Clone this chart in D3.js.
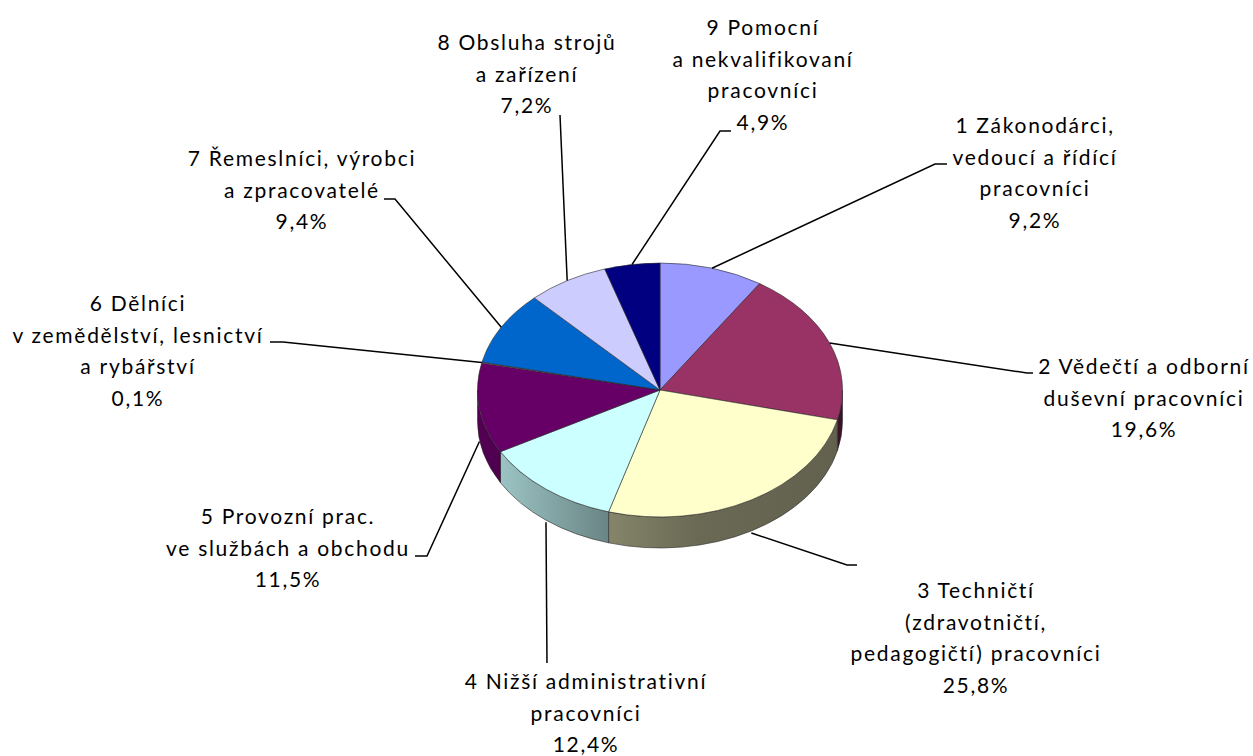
<!DOCTYPE html>
<html>
<head>
<meta charset="utf-8">
<script src="https://cdn.jsdelivr.net/npm/d3@7"></script>
<style>
  body { margin: 0; background: #fff; }
  text { font-family: Lato, "Noto Sans", sans-serif; font-size: 21px; letter-spacing: 1.7px; fill: #000; }
</style>
</head>
<body>
<div id="chart"></div>
<script>
// data
const categories = [
    ["1 Zákonodárci,", "vedoucí a řídící", "pracovníci"],
    ["2 Vědečtí a odborní", "duševní pracovníci"],
    ["3 Techničtí", "(zdravotničtí,", "pedagogičtí) pracovníci"],
    ["4 Nižší administrativní", "pracovníci"],
    ["5 Provozní prac.", "ve službách a obchodu"],
    ["6 Dělníci", "v zemědělství, lesnictví", "a rybářství"],
    ["7 Řemeslníci, výrobci", "a zpracovatelé"],
    ["8 Obsluha strojů", "a zařízení"],
    ["9 Pomocní", "a nekvalifikovaní", "pracovníci"]
];
const values = [9.2, 19.6, 25.8, 12.4, 11.5, 0.1, 9.4, 7.2, 4.9];
const colors = ["#9999FF", "#993366", "#FFFFCC", "#CCFFFF", "#660066", "#FF8080", "#0066CC", "#CCCCFF", "#000080"];

// label placement (text centre x, first baseline, leader bend points)
const labelLayout = [
    { x: 1035, y: 133, bend: [[935, 164], [947, 164]] },
    { x: 1144, y: 374, bend: [[1027, 373], [1033, 373]] },
    { x: 976, y: 598, bend: [[847, 565], [857, 565]] },
    { x: 586, y: 689, bend: [[547, 663]] },
    { x: 288, y: 524, bend: [[427, 556], [415, 556]] },
    { x: 138, y: 311, bend: [[283, 342], [270, 342]] },
    { x: 302, y: 166, bend: [[395, 199], [384, 199]] },
    { x: 527, y: 50, bend: [[560, 115]] },
    { x: 763, y: 35, bend: [[720, 131], [731, 131]] }
];

const width = 1253;
const height = 756;
const cx = 660, cy = 390;
const rx = 182.5, ry = 127;
const depth = 31;
const lineHeight = 31.7;

const svg = d3.select("#chart")
    .append("svg")
    .attr("width", width)
    .attr("height", height);

const pie = d3.pie().sort(null).value(d => d)(values);

function pt(a, dy) {
    return [cx + rx * Math.sin(a), cy - ry * Math.cos(a) + (dy || 0)];
}

// side shading: lighter on the left, darker to the right
const shade = d3.scaleLinear()
    .domain([cx - rx, cx - 52, cx + 40, cx + rx])
    .range([0.82, 0.52, 0.41, 0.38]);

const defs = svg.append("defs");
pie.forEach(function (p, i) {
    const g = defs.append("linearGradient")
        .attr("id", `side-${i}`)
        .attr("gradientUnits", "userSpaceOnUse")
        .attr("x1", cx - rx).attr("y1", 0)
        .attr("x2", cx + rx).attr("y2", 0);
    const base = d3.rgb(colors[i]);
    shade.domain().forEach(function (x) {
        const k = shade(x);
        g.append("stop")
            .attr("offset", (x - (cx - rx)) / (2 * rx))
            .attr("stop-color", d3.rgb(base.r * k, base.g * k, base.b * k));
    });
});

// side walls (front half only)
pie.forEach(function (p, i) {
    const a = Math.max(p.startAngle, Math.PI / 2);
    const b = Math.min(p.endAngle, 3 * Math.PI / 2);
    if (b <= a) return;
    const t0 = pt(a), t1 = pt(b), b0 = pt(a, depth), b1 = pt(b, depth);
    const large = (b - a) > Math.PI ? 1 : 0;
    const d = `M${t0} A${rx},${ry} 0 ${large} 1 ${t1} L${b1} A${rx},${ry} 0 ${large} 0 ${b0} Z`;
    svg.append("path")
        .attr("d", d)
        .attr("fill", `url(#side-${i})`)
        .attr("stroke", "#2a2a2a")
        .attr("stroke-width", 0.8)
        .attr("stroke-opacity", 0.75);
});

// top faces
pie.forEach(function (p, i) {
    const t0 = pt(p.startAngle), t1 = pt(p.endAngle);
    const large = (p.endAngle - p.startAngle) > Math.PI ? 1 : 0;
    svg.append("path")
        .attr("d", `M${cx},${cy} L${t0} A${rx},${ry} 0 ${large} 1 ${t1} Z`)
        .attr("fill", colors[i])
        .attr("stroke", "#2a2a2a")
        .attr("stroke-width", 0.8)
        .attr("stroke-opacity", 0.75)
        .attr("stroke-linejoin", "round");
});

// leader lines and labels
const fmt = v => d3.format(".1f")(v).replace(".", ",") + "%";
pie.forEach(function (p, i) {
    const mid = (p.startAngle + p.endAngle) / 2;
    const front = Math.cos(mid) < 0;
    const s = pt(mid, front ? depth + 2 : 0);
    const lay = labelLayout[i];
    svg.append("path")
        .attr("d", d3.line()([s].concat(lay.bend)))
        .attr("fill", "none")
        .attr("stroke", "#000")
        .attr("stroke-width", 1.5);

    const lines = categories[i].concat([fmt(values[i])]);
    const txt = svg.append("text")
        .attr("text-anchor", "middle");
    lines.forEach(function (l, j) {
        txt.append("tspan")
            .attr("x", lay.x)
            .attr("y", lay.y + j * lineHeight)
            .text(l);
    });
});
</script>
</body>
</html>
